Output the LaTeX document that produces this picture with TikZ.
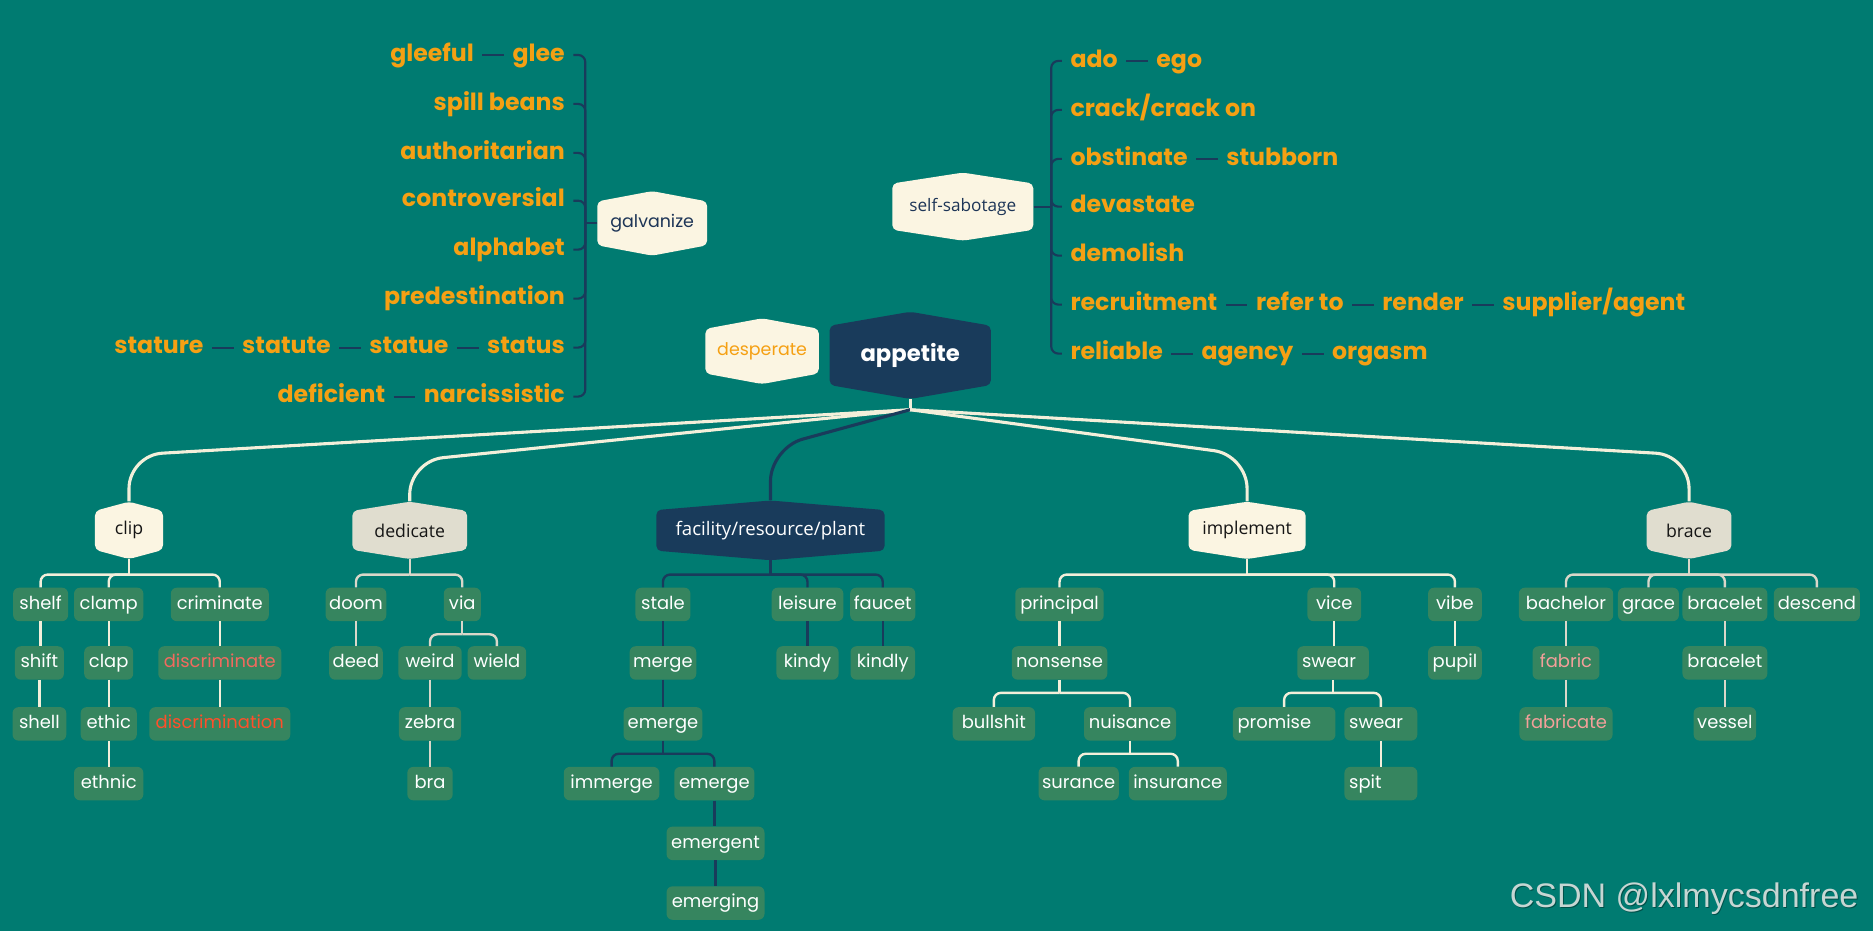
\documentclass[tikz,border=0pt]{standalone}
\usepackage{fontspec}
\setmainfont{Open Sans}
\newfontfamily\pop{Poppins}
\newfontfamily\wm{Liberation Sans}
\definecolor{bg}{HTML}{007B71}
\definecolor{navy}{HTML}{193B5B}
\definecolor{cream}{HTML}{FBF5E2}
\definecolor{beige}{HTML}{E0DDCF}
\definecolor{boxgreen}{HTML}{36855F}
\definecolor{orange}{HTML}{F5A013}
\definecolor{creamline}{HTML}{F3EFDA}
\definecolor{beigeline}{HTML}{DAD7C9}
\definecolor{redA}{HTML}{F26A5E}
\definecolor{redB}{HTML}{FF4F2A}
\definecolor{pinkA}{HTML}{F4A09A}
\definecolor{wmgray}{HTML}{C6D6D3}
\definecolor{darktxt}{HTML}{151515}
\definecolor{navytxt}{HTML}{1D3557}
\newcommand\hexnode[8]{%
 \fill[#6, rounded corners=4pt] ({#2-#4/2},{#3-#5/2+0.16*#5}) -- ({#2},{#3-#5/2}) -- ({#2+#4/2},{#3-#5/2+0.16*#5}) -- ({#2+#4/2},{#3+#5/2-0.16*#5}) -- ({#2},{#3+#5/2}) -- ({#2-#4/2},{#3+#5/2-0.16*#5}) -- cycle;
 \node[#7, minimum width=#4pt, minimum height=#5pt, inner sep=0pt] (#1) at (#2,#3) {#8};}
\newcommand\lf[6][]{\node[leaf,minimum width=#5pt,#1] (#2) at (#3,#4) {#6};}
\newcommand\fork[4]{\draw[#1] (#2.south) -- (#2.south |- 0,#3);
 \foreach \c in {#4} {\draw[#1, rounded corners=6pt] (#2.south |- 0,#3) -| (\c.north);}}
\newcommand\chain[3]{\draw[#1] (#2.south) -- (#2.south |- #3.north);}
\begin{document}
\begin{tikzpicture}[x=1pt,y=-1pt,
 leaf/.style={fill=boxgreen, rounded corners=5pt, minimum height=28pt, inner xsep=3pt, inner ysep=0pt, text=white, font=\pop\fontsize{15}{16}\selectfont, text height=11pt, text depth=3pt},
 olab/.style={text=orange, font=\pop\bfseries\fontsize{19.8}{21}\selectfont, inner xsep=7pt, inner ysep=2pt, text height=14.5pt, text depth=4pt},
 nav/.style={draw=navy, line width=1.8pt},
 cl/.style={draw=creamline, line width=2pt},
 bl/.style={draw=beigeline, line width=2pt},
 nl/.style={draw=navy, line width=2pt},
 top/.style={line width=2.6pt, rounded corners=28pt},
 hexA/.style={text=darktxt, font=\fontsize{14.8}{16}\selectfont},
]
\fill[bg] (0,0) rectangle (1568,779);
\useasboundingbox (0,0) rectangle (1568,779);

% ---------- top hexagons
\hexnode{galv}{546}{187}{92}{54}{cream}{text=navytxt, font=\pop\fontsize{14.6}{16}\selectfont}{galvanize}
\hexnode{ss}{806}{173}{118}{57}{cream}{text=navytxt, font=\fontsize{14.4}{16}\selectfont}{self-sabotage}
\hexnode{desp}{638}{294}{95}{55}{cream}{text=orange, font=\pop\fontsize{14.6}{16}\selectfont}{desperate}
\hexnode{app}{762}{297.5}{135}{73}{navy}{text=white, font=\pop\bfseries\fontsize{19}{21}\selectfont}{appetite}

% ---------- left labels
\node[olab, anchor=east] (glee) at (480,46) {glee};
\node[olab, anchor=east] (gleeful) at ([xshift=-18pt]glee.west) {gleeful};
\node[olab, anchor=east] (spill) at (480,87) {spill beans};
\node[olab, anchor=east] (auth) at (480,128) {authoritarian};
\node[olab, anchor=east] (contro) at (480,168) {controversial};
\node[olab, anchor=east] (alpha) at (480,209) {alphabet};
\node[olab, anchor=east] (pred) at (480,250) {predestination};
\node[olab, anchor=east] (status) at (480,291) {status};
\node[olab, anchor=east] (statue) at ([xshift=-18pt]status.west) {statue};
\node[olab, anchor=east] (statute) at ([xshift=-18pt]statue.west) {statute};
\node[olab, anchor=east] (stature) at ([xshift=-18pt]statute.west) {stature};
\node[olab, anchor=east] (narc) at (480,332) {narcissistic};
\node[olab, anchor=east] (defic) at ([xshift=-18pt]narc.west) {deficient};
\draw[nav] (galv.west) -- (490,187);
\foreach \n in {glee,spill,auth,contro,alpha,pred,status,narc}
  {\draw[nav, rounded corners=6pt] (490,187) |- (\n.east);}
\draw[nav] (gleeful.east) -- (glee.west);
\draw[nav] (stature.east) -- (statute.west);
\draw[nav] (statute.east) -- (statue.west);
\draw[nav] (statue.east) -- (status.west);
\draw[nav] (defic.east) -- (narc.west);

% ---------- right labels
\node[olab, anchor=west] (ado) at (889,51) {ado};
\node[olab, anchor=west] (ego) at ([xshift=18pt]ado.east) {ego};
\node[olab, anchor=west] (crack) at (889,92) {crack/crack on};
\node[olab, anchor=west] (obst) at (889,133) {obstinate};
\node[olab, anchor=west] (stub) at ([xshift=18pt]obst.east) {stubborn};
\node[olab, anchor=west] (devas) at (889,173) {devastate};
\node[olab, anchor=west] (demol) at (889,214) {demolish};
\node[olab, anchor=west] (recr) at (889,255) {recruitment};
\node[olab, anchor=west] (refer) at ([xshift=18pt]recr.east) {refer to};
\node[olab, anchor=west] (render) at ([xshift=18pt]refer.east) {render};
\node[olab, anchor=west] (suppl) at ([xshift=18pt]render.east) {supplier/agent};
\node[olab, anchor=west] (reli) at (889,296) {reliable};
\node[olab, anchor=west] (agency) at ([xshift=18pt]reli.east) {agency};
\node[olab, anchor=west] (orgasm) at ([xshift=18pt]agency.east) {orgasm};
\draw[nav] (ss.east) -- (880,173);
\foreach \n in {ado,crack,obst,devas,demol,recr,reli}
  {\draw[nav, rounded corners=6pt] (880,173) |- (\n.west);}
\draw[nav] (ado.east) -- (ego.west);
\draw[nav] (obst.east) -- (stub.west);
\draw[nav] (recr.east) -- (refer.west);
\draw[nav] (refer.east) -- (render.west);
\draw[nav] (render.east) -- (suppl.west);
\draw[nav] (reli.east) -- (agency.west);
\draw[nav] (agency.east) -- (orgasm.west);

% ---------- level-1 hexagons
\hexnode{clip}{108}{444}{57}{48}{cream}{hexA}{clip}
\hexnode{dedi}{343}{444}{96}{48}{beige}{hexA}{dedicate}
\hexnode{faci}{645}{444}{191}{50}{navy}{text=white, font=\fontsize{15.6}{17}\selectfont}{facility/resource/plant}
\hexnode{impl}{1044}{444}{98}{48}{cream}{hexA}{implement}
\hexnode{brace}{1414}{444}{71}{48}{beige}{hexA}{brace}

% ---------- main connectors
\coordinate (hub) at (762,343);
\draw[draw=creamline, line width=2.6pt] (app.south) -- (hub);
\draw[top, draw=creamline] (hub) -- (108,381) -- (clip.north);
\draw[top, draw=creamline] (hub) -- (343,386) -- (dedi.north);
\draw[top, draw=navy] (hub) -- (645,375) -- (faci.north);
\draw[top, draw=creamline] (hub) -- (1044,381) -- (impl.north);
\draw[top, draw=creamline] (hub) -- (1414,381) -- (brace.north);

% ---------- clip subtree
\lf{shelf}{34}{506}{46}{shelf}
\lf{clamp}{91}{506}{58}{clamp}
\lf{crim}{184}{506}{82}{criminate}
\lf{shift}{33}{555}{41}{shift}
\lf{clap}{91}{555}{41}{clap}
\lf[text=redA]{discr}{184}{555}{103}{discriminate}
\lf{shell}{33}{606}{45}{shell}
\lf{ethic}{91}{606}{47}{ethic}
\lf[text=redB]{discn}{184}{606}{118}{discrimination}
\lf{ethnic}{91}{656}{58}{ethnic}
\fork{cl}{clip}{481}{shelf,clamp,crim}
\chain{cl}{shelf}{shift}\chain{cl}{shift}{shell}
\chain{cl}{clamp}{clap}\chain{cl}{clap}{ethic}\chain{cl}{ethic}{ethnic}
\chain{cl}{crim}{discr}\chain{cl}{discr}{discn}

% ---------- dedicate subtree
\lf{doom}{298}{506}{50}{doom}
\lf{via}{387}{506}{31}{via}
\lf{deed}{298}{555}{44}{deed}
\lf{weird}{360}{555}{53}{weird}
\lf{wield}{416}{555}{49}{wield}
\lf{zebra}{360}{606}{52}{zebra}
\lf{bra}{360}{656}{38}{bra}
\fork{bl}{dedi}{481}{doom,via}
\chain{bl}{doom}{deed}
\fork{bl}{via}{531}{weird,wield}
\chain{bl}{weird}{zebra}\chain{bl}{zebra}{bra}

% ---------- facility subtree
\lf{stale}{555}{506}{46}{stale}
\lf{leisure}{676}{506}{60}{leisure}
\lf{faucet}{739}{506}{54}{faucet}
\lf{merge}{555}{555}{54}{merge}
\lf{kindy}{676}{555}{52}{kindy}
\lf{kindly}{739}{555}{54}{kindly}
\lf{emergeA}{555}{606}{66}{emerge}
\lf{immerge}{512}{656}{80}{immerge}
\lf{emergeB}{598}{656}{67}{emerge}
\lf{emergent}{599}{706}{82}{emergent}
\lf{emerging}{599}{756}{82}{emerging}
\fork{nl}{faci}{481}{stale,leisure,faucet}
\chain{nl}{stale}{merge}\chain{nl}{merge}{emergeA}
\fork{nl}{emergeA}{631}{immerge,emergeB}
\chain{nl}{emergeB}{emergent}\chain{nl}{emergent}{emerging}
\chain{nl}{leisure}{kindy}\chain{nl}{faucet}{kindly}

% ---------- implement subtree
\lf{principal}{887}{506}{74}{principal}
\lf{vice}{1117}{506}{45}{vice}
\lf{vibe}{1218}{506}{45}{vibe}
\lf{nonsense}{887}{555}{80}{nonsense}
\lf[text width=52pt, align=left, inner xsep=4pt]{swearA}{1116}{555}{60}{swear}
\lf{pupil}{1218}{555}{45}{pupil}
\lf{bullshit}{832}{606}{69}{bullshit}
\lf{nuisance}{946}{606}{77}{nuisance}
\lf[text width=78pt, align=left, inner xsep=4pt]{promise}{1075}{606}{86}{promise}
\lf[text width=53pt, align=left, inner xsep=4pt]{swearB}{1156}{606}{61}{swear}
\lf{surance}{903}{656}{67}{surance}
\lf{insurance}{986}{656}{82}{insurance}
\lf[text width=53pt, align=left, inner xsep=4pt]{spit}{1156}{656}{61}{spit}
\fork{cl}{impl}{481}{principal,vice,vibe}
\chain{cl}{principal}{nonsense}
\fork{cl}{nonsense}{580}{bullshit,nuisance}
\fork{cl}{nuisance}{631}{surance,insurance}
\chain{cl}{vice}{swearA}
\fork{cl}{swearA}{580}{promise,swearB}
\chain{cl}{swearB}{spit}
\chain{cl}{vibe}{pupil}

% ---------- brace subtree
\lf{bachelor}{1311}{506}{79}{bachelor}
\lf{grace}{1380}{506}{51}{grace}
\lf{braceletA}{1444}{506}{71}{bracelet}
\lf{descend}{1521}{506}{72}{descend}
\lf[text=pinkA]{fabric}{1311}{555}{56}{fabric}
\lf{braceletB}{1444}{555}{71}{bracelet}
\lf[text=pinkA]{fabricate}{1311}{606}{78}{fabricate}
\lf{vessel}{1444}{606}{52}{vessel}
\fork{bl}{brace}{481}{bachelor,grace,braceletA,descend}
\chain{bl}{bachelor}{fabric}\chain{bl}{fabric}{fabricate}
\chain{bl}{braceletA}{braceletB}\chain{bl}{braceletB}{vessel}

% ---------- watermark
\node[text=black!35!bg, font=\wm\fontsize{28.5}{30}\selectfont, anchor=east, inner sep=0pt] at (1556.8,752.8) {CSDN @lxlmycsdnfree};
\node[text=wmgray, font=\wm\fontsize{28.5}{30}\selectfont, anchor=east, inner sep=0pt] (wm) at (1556,752) {CSDN @lxlmycsdnfree};
\end{tikzpicture}
\end{document}
